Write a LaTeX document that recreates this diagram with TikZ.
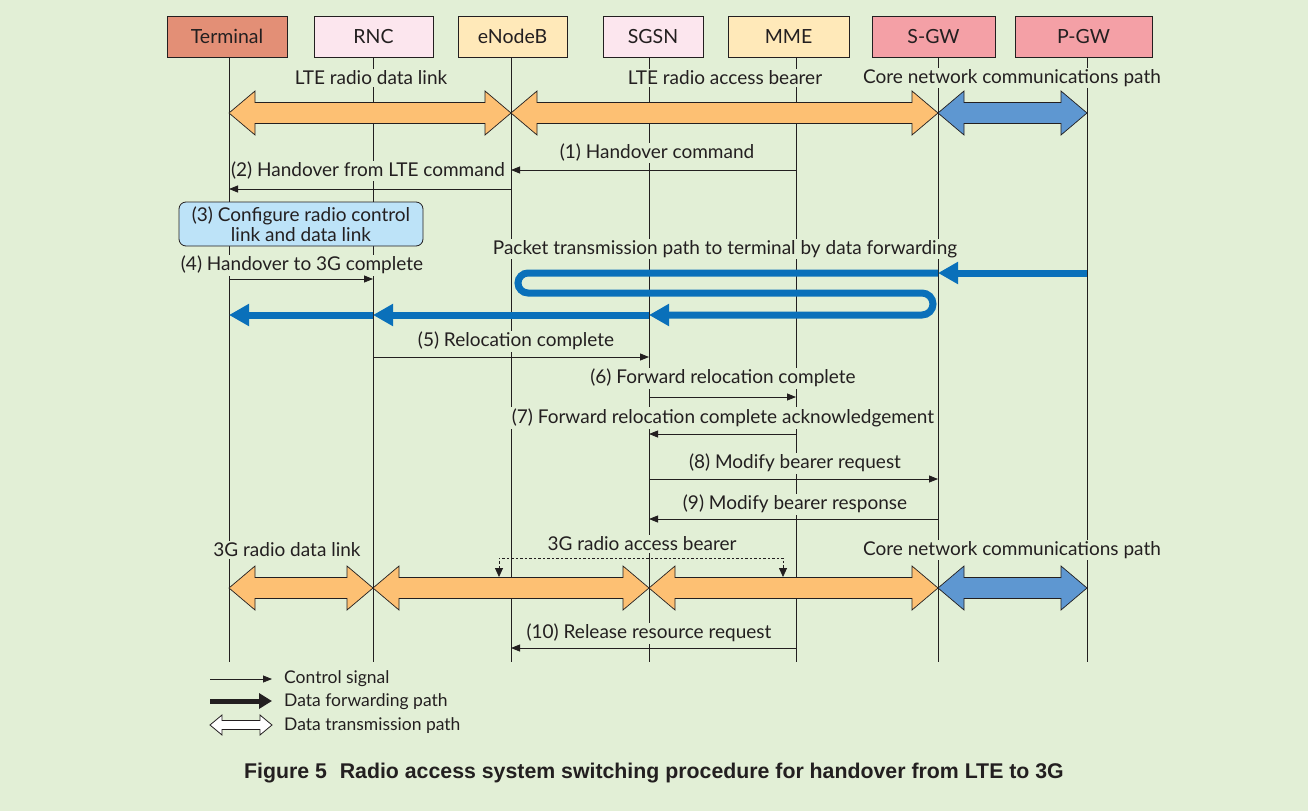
\documentclass[tikz,border=0pt]{standalone}
\usepackage{fontspec}
\setmainfont{Lato}
\newfontfamily\capfont{Liberation Sans}
\usetikzlibrary{arrows.meta}
\definecolor{bg}{HTML}{E2EFD6}
\definecolor{txt}{HTML}{231F20}
\definecolor{cterm}{HTML}{E38F76}
\definecolor{cpink}{HTML}{FCE6EE}
\definecolor{cyel}{HTML}{FFE9B9}
\definecolor{cgw}{HTML}{F4A0A6}
\definecolor{corange}{HTML}{FDC073}
\definecolor{cblue}{HTML}{5E97D1}
\definecolor{cpath}{HTML}{0A70BA}
\definecolor{cbox}{HTML}{BDE3F8}
\newcommand\dblarr[5][]{% [style] x1 x2 y fill
  \filldraw[fill=#5, draw=txt, line width=0.7pt, #1] (#2,#4) -- (#2+26,#4-22) -- (#2+26,#4-10.5) -- (#3-26,#4-10.5) -- (#3-26,#4-22) -- (#3,#4) -- (#3-26,#4+22) -- (#3-26,#4+10.5) -- (#2+26,#4+10.5) -- (#2+26,#4+22) -- cycle;}
\tikzset{
  hbox/.style={draw=txt, line width=0.8pt, minimum height=41pt, inner sep=0pt, font=\fontsize{19.5}{21}\selectfont, text=txt},
  lbl/.style={font=\fontsize{19}{21}\selectfont, text=txt, fill=bg, inner sep=1.5pt},
  msg/.style={draw=txt, line width=0.8pt, -{Triangle[length=9pt,width=7pt]}},
  lifeline/.style={draw=txt, line width=0.8pt},
  fwd/.style={draw=cpath, line width=7pt, -{Triangle[length=20pt,width=21pt]}},
  leg/.style={font=\fontsize{17.5}{19}\selectfont, text=txt, inner sep=0pt, anchor=west},
}
\begin{document}
\begin{tikzpicture}[x=1pt,y=-1pt]
\fill[bg] (0,0) rectangle (1308,811);
\useasboundingbox (0,0) rectangle (1308,811);
% header boxes
\node[hbox, fill=cterm, minimum width=120pt] (term) at (227,36.5) {Terminal};
\node[hbox, fill=cpink, minimum width=119pt] (rnc) at (373.5,36.5) {RNC};
\node[hbox, fill=cyel, minimum width=109pt] (enb) at (512.5,36.5) {eNodeB};
\node[hbox, fill=cpink, minimum width=100pt] (sgsn) at (653,36.5) {SGSN};
\node[hbox, fill=cyel, minimum width=121pt] (mme) at (788.5,36.5) {MME};
\node[hbox, fill=cgw, minimum width=123pt] (sgw) at (933.5,36.5) {S-GW};
\node[hbox, fill=cgw, minimum width=137pt] (pgw) at (1083.5,36.5) {P-GW};
% lifeline coordinates
\coordinate (lT) at (229,0);
\coordinate (lR) at (373,0);
\coordinate (lE) at (511,0);
\coordinate (lS) at (649,0);
\coordinate (lM) at (796,0);
\coordinate (lG) at (938,0);
\coordinate (lP) at (1087,0);
\draw[lifeline] (lT |- term.south) -- (lT |- 0,662);
\draw[lifeline] (lR |- rnc.south) -- (lR |- 0,662);
\draw[lifeline] (lE |- enb.south) -- (lE |- 0,662);
\draw[lifeline] (lS |- sgsn.south) -- (lS |- 0,662);
\draw[lifeline] (lM |- mme.south) -- (lM |- 0,662);
\draw[lifeline] (lG |- sgw.south) -- (lG |- 0,662);
\draw[lifeline] (lP |- pgw.south) -- (lP |- 0,662);
% top band
\node[lbl] (t1) at (371,78) {LTE radio data link};
\node[lbl] (t2) at (725,78) {LTE radio access bearer};
\node[lbl] (t3) at (1012,78) {Core network communications path};
\dblarr{229}{511}{113}{corange}
\dblarr{511}{938}{113}{corange}
\dblarr{938}{1087}{113}{cblue}
% messages
\node[lbl] (m1) at (657,153) {(1) Handover command};
\draw[msg] (lM |- 0,170) -- (lE |- 0,170);
\node[lbl] (m2) at (368,171) {(2) Handover from LTE command};
\draw[msg] (lE |- 0,189) -- (lT |- 0,189);
\node[draw=txt, line width=0.8pt, fill=cbox, rounded corners=7pt, minimum width=244pt, minimum height=44pt, inner sep=0pt, align=center, font=\fontsize{19}{19.5}\selectfont, text=txt] (m3) at (301,224) {(3) Configure radio control\\link and data link};
\node[lbl] (m4) at (302,265) {(4) Handover to 3G complete};
\draw[msg] (lT |- 0,279) -- (lR |- 0,279);
\node[lbl] (pk) at (725,249) {Packet transmission path to terminal by data forwarding};
% forwarding path
\draw[fwd] (lP |- 0,273) -- (lG |- 0,273);
\draw[fwd] (lG |- 0,273) -- (528,273) arc[start angle=270, end angle=90, radius=10] -- (922,293) arc[start angle=-90, end angle=90, radius=11] -- (lS |- 0,315);
\draw[fwd] (lS |- 0,315) -- (lR |- 0,315);
\draw[fwd] (lR |- 0,315) -- (lT |- 0,315);
\node[lbl] (m5) at (516,341) {(5) Relocation complete};
\draw[msg] (lR |- 0,357) -- (lS |- 0,357);
\node[lbl] (m6) at (723,378) {(6) Forward relocation complete};
\draw[msg] (lS |- 0,397) -- (lM |- 0,397);
\node[lbl] (m7) at (723,418) {(7) Forward relocation complete acknowledgement};
\draw[msg] (lM |- 0,434) -- (lS |- 0,434);
\node[lbl] (m8) at (795,463) {(8) Modify bearer request};
\draw[msg] (lS |- 0,479) -- (lG |- 0,479);
\node[lbl] (m9) at (795,504) {(9) Modify bearer response};
\draw[msg] (lG |- 0,519) -- (lS |- 0,519);
% bottom band
\node[lbl] (b1) at (287,550) {3G radio data link};
\node[lbl] (b2) at (642,544) {3G radio access bearer};
\node[lbl] (b3) at (1012,550) {Core network communications path};
\dblarr{229}{373}{588}{corange}
\dblarr{373}{649}{588}{corange}
\dblarr{649}{938}{588}{corange}
\dblarr{938}{1087}{588}{cblue}
\coordinate (d1) at (499,577);
\coordinate (d2) at (783,577);
\draw[draw=txt, line width=0.8pt, dash pattern=on 2.5pt off 2pt, {Triangle[length=9pt,width=8pt]}-{Triangle[length=9pt,width=8pt]}] (d1) -- (499,558) -- (783,558) -- (d2);
\node[lbl] (m10) at (649,633) {(10) Release resource request};
\draw[msg] (lM |- 0,648) -- (lE |- 0,648);
% legend
\coordinate (g1a) at (210,679); \coordinate (g1b) at (272,679);
\coordinate (g2a) at (210,701); \coordinate (g2b) at (272,701);
\draw[msg] (g1a) -- (g1b);
\draw[draw=txt, line width=5pt, -{Triangle[length=13pt,width=15pt]}] (g2a) -- (g2b);
\filldraw[fill=white, draw=txt, line width=0.8pt] (210,725) -- (222,715) -- (222,720.5) -- (260,720.5) -- (260,715) -- (272,725) -- (260,735) -- (260,729.5) -- (222,729.5) -- (222,735) -- cycle;
\node[leg] (lg1) at (284,679) {Control signal};
\node[leg] (lg2) at (284,702) {Data forwarding path};
\node[leg] (lg3) at (284,726) {Data transmission path};
% caption
\node[text=txt, inner sep=0pt] (cap) at (654,773) {\capfont\bfseries\fontsize{21.3}{23}\selectfont Figure 5\hspace{0.6em}Radio access system switching procedure for handover from LTE to 3G};
\end{tikzpicture}
\end{document}
